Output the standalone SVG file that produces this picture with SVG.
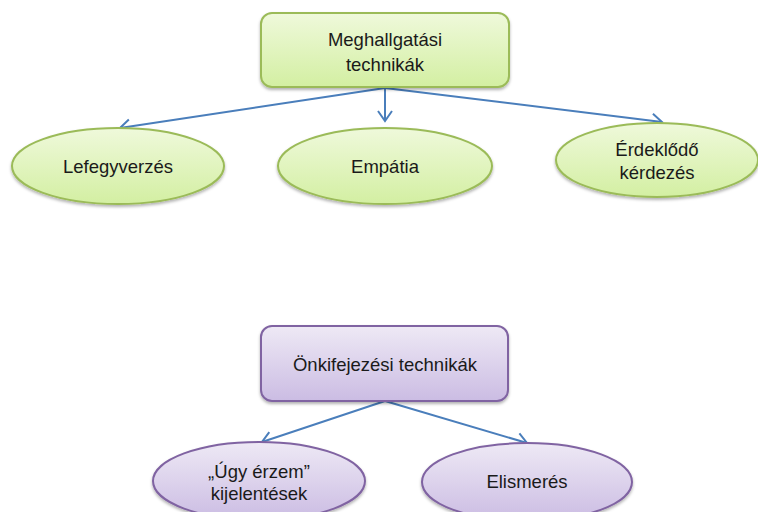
<svg xmlns="http://www.w3.org/2000/svg" width="758" height="512" viewBox="0 0 758 512">
<defs>
<linearGradient id="gg" x1="0" y1="0" x2="0" y2="1"><stop offset="0" stop-color="#eff9db"/><stop offset="1" stop-color="#d3efa2"/></linearGradient>
<linearGradient id="pg" x1="0" y1="0" x2="0" y2="1"><stop offset="0" stop-color="#eee9f5"/><stop offset="1" stop-color="#cbbce3"/></linearGradient>
<filter id="sh" x="-10%" y="-10%" width="120%" height="130%"><feDropShadow dx="0" dy="2" stdDeviation="1.5" flood-color="#000" flood-opacity="0.3"/></filter>
<marker id="ar" markerUnits="userSpaceOnUse" markerWidth="20" markerHeight="20" viewBox="-12 -10 14 20" refX="0" refY="0" orient="auto">
<path d="M-10,-7 L0,0 L-10,7" fill="none" stroke="#4a7ebb" stroke-width="2"/>
</marker>
<style>
.g{fill:url(#gg);stroke:#9bbb59;stroke-width:2;filter:url(#sh)}
.p{fill:url(#pg);stroke:#8064a2;stroke-width:2;filter:url(#sh)}
.t{font-family:"Liberation Sans",Arial,sans-serif;font-size:18.5px;fill:#1a1a1a;text-anchor:middle}
.c{stroke:#4a7ebb;stroke-width:2;fill:none;marker-end:url(#ar)}
</style>
</defs>
<g id="connectors">
<line class="c" x1="385" y1="88" x2="120" y2="128"/>
<line class="c" x1="385" y1="88" x2="385" y2="121"/>
<line class="c" x1="385" y1="88" x2="662" y2="122"/>
<line class="c" x1="385" y1="401" x2="262" y2="442"/>
<line class="c" x1="385" y1="401" x2="527" y2="443"/>
</g>
<g id="meghallgatasi">
<rect class="g" x="261" y="13" width="248" height="74" rx="11"/>
<text class="t" x="385" y="46">Meghallgatási</text>
<text class="t" x="385" y="71">technikák</text>
</g>
<g id="lefegyverzes">
<ellipse class="g" cx="118" cy="166" rx="106" ry="38"/>
<text class="t" x="118" y="173">Lefegyverzés</text>
</g>
<g id="empatia">
<ellipse class="g" cx="385" cy="166" rx="107" ry="38"/>
<text class="t" x="385" y="173">Empátia</text>
</g>
<g id="erdeklodo">
<ellipse class="g" cx="657" cy="160" rx="101" ry="37"/>
<text class="t" x="657" y="156">Érdeklődő</text>
<text class="t" x="657" y="179">kérdezés</text>
</g>
<g id="onkifejezesi">
<rect class="p" x="261" y="326" width="247" height="75" rx="11"/>
<text class="t" x="385" y="371">Önkifejezési technikák</text>
</g>
<g id="ugy-erzem">
<ellipse class="p" cx="259" cy="481" rx="106" ry="39"/>
<text class="t" x="259" y="478">„Úgy érzem”</text>
<text class="t" x="259" y="500">kijelentések</text>
</g>
<g id="elismeres">
<ellipse class="p" cx="527" cy="482" rx="105" ry="39"/>
<text class="t" x="527" y="488">Elismerés</text>
</g>
</svg>
